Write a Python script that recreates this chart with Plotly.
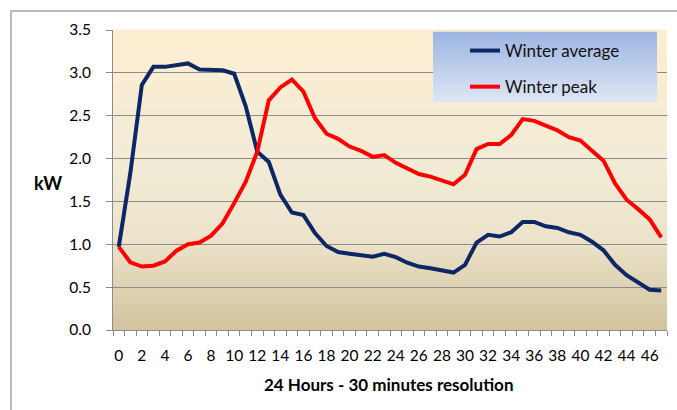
import plotly.graph_objects as go

half_hours = list(range(48))
winter_average = [0.97, 1.83, 2.86, 3.07, 3.07, 3.09, 3.11, 3.04, 3.03, 3.03,
                  2.99, 2.61, 2.08, 1.96, 1.58, 1.37, 1.34, 1.13, 0.98, 0.91,
                  0.89, 0.875, 0.855, 0.89, 0.85, 0.785, 0.74, 0.72, 0.69, 0.67,
                  0.76, 1.02, 1.11, 1.09, 1.14, 1.26, 1.26, 1.21, 1.19, 1.14,
                  1.11, 1.03, 0.93, 0.76, 0.64, 0.56, 0.47, 0.46]
winter_peak = [0.97, 0.79, 0.74, 0.75, 0.80, 0.925, 1.00, 1.02, 1.10, 1.245,
               1.48, 1.73, 2.08, 2.68, 2.83, 2.92, 2.78, 2.47, 2.29, 2.23,
               2.14, 2.09, 2.02, 2.04, 1.95, 1.89, 1.82, 1.79, 1.75, 1.70,
               1.81, 2.11, 2.17, 2.17, 2.275, 2.46, 2.44, 2.38, 2.33, 2.25,
               2.21, 2.09, 1.975, 1.71, 1.52, 1.41, 1.29, 1.08]
x_tick_vals = list(range(0, 48, 2))
y_tick_vals = [0, 0.5, 1.0, 1.5, 2.0, 2.5, 3.0, 3.5]

FONT = "Lato"

fig = go.Figure()
fig.add_trace(go.Scatter(x=half_hours, y=winter_average, mode="lines", name="Winter average",
                         line=dict(color="#0C2765", width=4), legendgroup="a"))
fig.add_trace(go.Scatter(x=half_hours, y=winter_peak, mode="lines", name="Winter peak",
                         line=dict(color="#FF0000", width=4), legendgroup="b"))


def hex2rgb(h):
    h = h.lstrip("#")
    return [int(h[i:i + 2], 16) for i in (0, 2, 4)]


def grad(stops, t):
    for (t0, c0), (t1, c1) in zip(stops, stops[1:]):
        if t0 <= t <= t1:
            f = (t - t0) / (t1 - t0) if t1 > t0 else 0
            a, b = hex2rgb(c0), hex2rgb(c1)
            return "rgb(%d,%d,%d)" % tuple(round(a[k] + (b[k] - a[k]) * f) for k in range(3))
    return stops[-1][1]


shapes = []
# plot-area gradient (top -> bottom)
bg_stops = [(0.0, "#FDEED1"), (0.45, "#F2EBD6"), (0.7, "#ECE3CA"), (1.0, "#D2C39F")]
n = 60
for i in range(n):
    t = (i + 0.5) / n
    shapes.append(dict(type="rect", xref="x domain", yref="y domain",
                       x0=0, x1=1, y0=1 - (i + 1) / n, y1=1 - i / n + 0.002,
                       fillcolor=grad(bg_stops, t), line=dict(width=0), layer="below"))

# legend box gradient
lg_stops = [(0.0, "#9BB4E2"), (1.0, "#DEE6F5")]
lx0, lx1 = (433 - 113) / 554, (657 - 113) / 554
ly1, ly0 = (330 - 32) / 300, (330 - 102) / 300
m = 30
for i in range(m):
    t = (i + 0.5) / m
    shapes.append(dict(type="rect", xref="paper", yref="paper",
                       x0=lx0, x1=lx1,
                       y0=ly1 - (ly1 - ly0) * (i + 1) / m,
                       y1=ly1 - (ly1 - ly0) * i / m + 0.001,
                       fillcolor=grad(lg_stops, t), line=dict(width=0), layer="above"))

# outer chart frame
shapes.append(dict(type="rect", xref="paper", yref="paper",
                   x0=(11 - 113) / 554, x1=1.3, y0=-0.5, y1=(330 - 11) / 300,
                   line=dict(color="#A6A6A6", width=1.5), fillcolor="rgba(0,0,0,0)", layer="below"))

fig.update_layout(
    width=677, height=410,
    margin=dict(l=113, r=10, t=30, b=80),
    paper_bgcolor="white", plot_bgcolor="rgba(0,0,0,0)",
    font=dict(family=FONT, size=15, color="#000000"),
    shapes=shapes,
    showlegend=True,
    legend=dict(x=(465 - 113) / 554, y=(330 - 33) / 300, xanchor="left", yanchor="top",
                bgcolor="rgba(0,0,0,0)", font=dict(family=FONT, size=17, color="#111111"),
                traceorder="grouped", tracegroupgap=11, itemwidth=30),
    annotations=[
        dict(text="<b>kW</b>", xref="paper", yref="paper", x=(48 - 113) / 554, y=(330 - 183) / 300,
             showarrow=False, font=dict(family=FONT, size=18), xanchor="center", yanchor="middle"),
        dict(text="<b>24 Hours - 30 minutes resolution</b>", xref="paper", yref="paper",
             x=(388 - 113) / 554, y=(330 - 384) / 300, showarrow=False,
             font=dict(family=FONT, size=17), xanchor="center", yanchor="middle"),
    ],
)

fig.update_xaxes(range=[-0.5, 47.5], tickmode="array", tickvals=x_tick_vals,
                 ticktext=[str(v) for v in x_tick_vals], ticks="", showgrid=False,
                 showline=True, linecolor="#8C8C8C", linewidth=1, zeroline=False,
                 tickfont=dict(family=FONT, size=15.5), ticklabelstandoff=11,
                 minor=dict(tickmode="linear", tick0=-0.5, dtick=1, ticks="outside",
                            ticklen=5, tickcolor="#8C8C8C", showgrid=False))
fig.update_yaxes(range=[0, 3.5], tickmode="array", tickvals=y_tick_vals, tickformat=".1f",
                 ticks="outside", ticklen=6, tickcolor="#8C8C8C", showgrid=True,
                 gridcolor="#8C8C8C", gridwidth=1, showline=True, linecolor="#8C8C8C",
                 linewidth=1, zeroline=False, tickfont=dict(family=FONT, size=15.5),
                 ticklabelstandoff=12)

fig.write_html("out.html", config={"displayModeBar": False},
               post_script="document.body.style.margin='0';")
